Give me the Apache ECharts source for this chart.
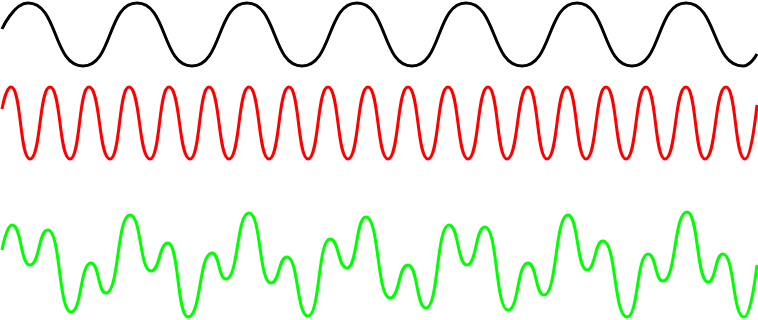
<!DOCTYPE html>
<html>
<head>
<meta charset="utf-8">
<script src="https://cdn.jsdelivr.net/npm/echarts@6/dist/echarts.min.js"></script>
<style>
  html, body { margin: 0; padding: 0; background: #ffffff; }
  #chart { width: 758px; height: 320px; }
</style>
</head>
<body>
<div id="chart"></div>
<script>
var blackWave = [[2,29],[28,3],[83,66],[137,3],[192,66],[247,3],[302,66],[357,3],[412,66],[466,3],[522,66],[577,3],[632,66],[686,3],[743,66],[757,54]];

var redWave = [[2,109],[11,87],[30,159],[50,87],[70,159],[89,87],[110,159],[129,87],[150,159],[169,87],[190,159],[209,87],[229,159],[249,87],[269,159],[289,87],[308,159],[328,87],[348,159],[368,87],[388,159],[408,87],[428,159],[448,87],[468,159],[488,87],[507,159],[528,87],[547,159],[567,87],[586,159],[606,87],[626,159],[646,87],[665,159],[686,87],[705,159],[726,87],[745,159],[757,105]];

var greenWave = [[2,250],[12,225],[30,265],[48,230],[71,312],[91,263],[106,293],[130,215],[151,271],[168,243],[188,317],[212,253],[226,279],[249,213],[271,283],[287,257],[308,316],[330,239],[347,268],[366,217],[390,298],[408,265],[426,308],[449,225],[467,265],[485,227],[508,310],[528,263],[544,295],[568,215],[587,270],[603,241],[627,317],[648,254],[663,281],[687,212],[708,282],[723,254],[744,317],[757,265]];

var chart = echarts.init(document.getElementById('chart'), null, { renderer: 'canvas' });
chart.setOption({
  animation: false,
  backgroundColor: '#ffffff',
  grid: { left: 0, right: 0, top: 0, bottom: 0, containLabel: false },
  xAxis: { type: 'value', min: 0, max: 758, show: false },
  yAxis: { type: 'value', min: 0, max: 320, inverse: true, show: false },
  series: [
    { type: 'line', data: blackWave, smooth: 0.55, smoothMonotone: 'x', showSymbol: false, lineStyle: { color: '#000000', width: 3 } },
    { type: 'line', data: redWave, smooth: 0.55, smoothMonotone: 'x', showSymbol: false, lineStyle: { color: '#ff0000', width: 3 } },
    { type: 'line', data: greenWave, smooth: 0.55, smoothMonotone: 'x', showSymbol: false, lineStyle: { color: '#00ff00', width: 3 } }
  ]
});
</script>
</body>
</html>
